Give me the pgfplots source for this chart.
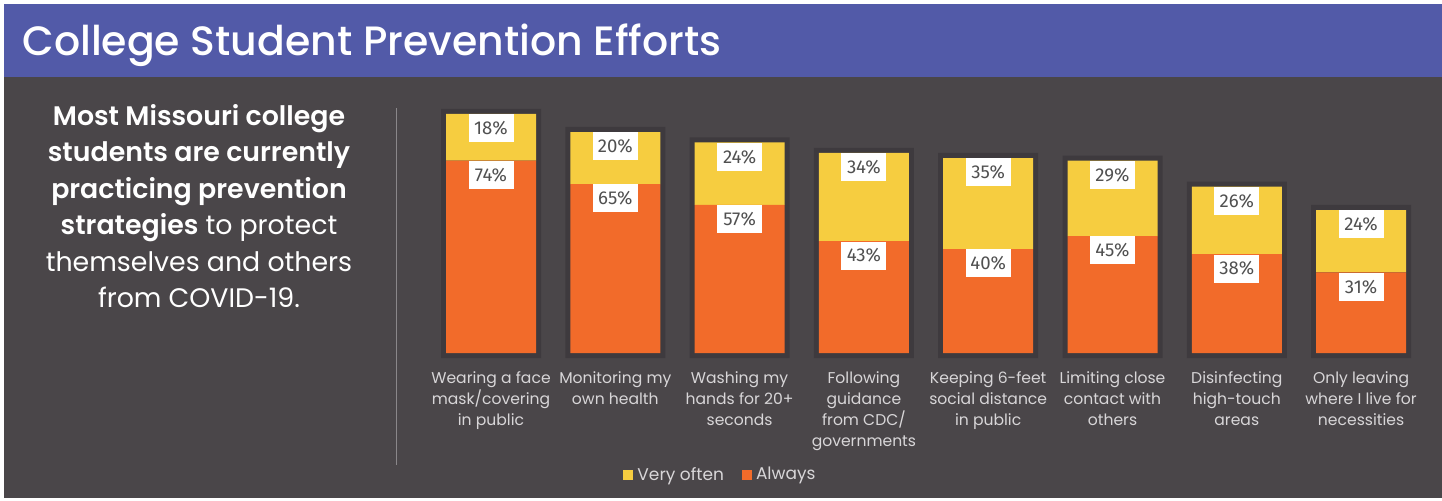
\documentclass[border=0pt]{standalone}
\usepackage{fontspec}
\setmainfont{Poppins}[BoldFont={Poppins SemiBold}]
\newfontfamily\titlefont{Poppins Medium}
\newfontfamily\labfont{Fira Sans}
\usepackage{pgfplots}
\usepackage{pgfplotstable}
\pgfplotsset{compat=1.18}
\definecolor{purp}{RGB}{82,90,168}
\definecolor{bg}{RGB}{74,70,73}
\definecolor{frame}{RGB}{62,58,62}
\definecolor{orangec}{RGB}{242,107,42}
\definecolor{yellowc}{RGB}{246,205,64}
\definecolor{cat}{RGB}{216,214,216}
\definecolor{sep}{RGB}{138,135,138}
\definecolor{labtext}{RGB}{80,80,80}
\pgfplotstableread{
x always often frame
0 74 18 95.85
1 65 20 88.85
2 57 24 84.85
3 43 34 80.85
4 40 35 78.85
5 45 29 77.85
6 38 26 67.85
7 31 24 58.85
}\data
\pgfplotsset{common/.style={anchor=south west, scale only axis,
  width=497.2pt, height=130pt, xmin=-0.5, xmax=7.5, ymin=0, ymax=100, clip=false}}
\begin{document}
\begin{tikzpicture}
\fill[white] (0pt,0pt) rectangle (721pt,250pt);
\fill[purp] (2pt,211.5pt) rectangle (721pt,248pt);
\fill[bg] (2pt,1pt) rectangle (721pt,211.5pt);
\node[anchor=base west, text=white, font=\titlefont\fontsize{20.5}{24}\selectfont, inner sep=0pt] at (11pt,222.5pt) {College Student Prevention Efforts};
\draw[sep, line width=0.6pt] (198.25pt,196pt) -- (198.25pt,17.5pt);
\begin{scope}[every node/.style={anchor=base, text=white, inner sep=0pt, font=\fontsize{13.4}{18}\selectfont}]
\node at (99.5pt,187.5pt) {\bfseries Most Missouri college};
\node at (99.5pt,169.25pt) {\bfseries students are currently};
\node at (99.5pt,151pt) {\bfseries practicing prevention};
\node at (99.5pt,132.75pt) {\textbf{strategies} to protect};
\node at (99.5pt,114.5pt) {themselves and others};
\node at (99.5pt,96.25pt) {from COVID-19.};
\end{scope}
% frames
\begin{axis}[common, at={(214.43pt,71pt)}, hide axis, ybar, bar width=50pt]
\addplot[fill=frame, draw=none] table[x=x,y=frame]{\data};
\end{axis}
% bars
\begin{axis}[common, at={(214.43pt,73.5pt)},
  ybar stacked, bar width=45pt,
  axis line style={draw=none}, major tick length=0pt, ytick=\empty,
  xtick={0,1,2,3,4,5,6,7},
  xticklabels={{Wearing a face\\mask/covering\\in public},{Monitoring my\\own health},{Washing my\\hands for 20+\\seconds},{Following\\guidance\\from CDC/\\governments},{Keeping 6-feet\\social distance\\in public},{Limiting close\\contact with\\others},{Disinfecting\\high-touch\\areas},{Only leaving\\where I live for\\necessities}},
  xticklabel style={align=center, text=cat, font=\fontsize{7.8}{10.5}\selectfont, anchor=north, inner sep=0pt, yshift=-9pt},
  reverse legend, legend columns=2,
  legend style={at={(0.2943,-0.47)}, anchor=center, draw=none, fill=none, text=cat, font=\fontsize{8.5}{10}\selectfont, /tikz/every even column/.append style={column sep=7pt}},
  legend image code/.code={\fill[#1] (0pt,-2.5pt) rectangle (5pt,2.5pt);}
  ]
\addplot[fill=orangec, draw=none] table[x=x,y=always]{\data};
\addplot[fill=yellowc, draw=none] table[x=x,y=often]{\data};
\legend{Always,Very often}
\end{axis}
% value labels
\begin{axis}[common, at={(214.43pt,73.5pt)}, hide axis,
  point meta=explicit,
  nodes near coords={\pgfmathprintnumber[assume math mode=true]{\pgfplotspointmeta}\%},
  every node near coord/.append style={anchor=north, fill=white, minimum width=22.5pt, minimum height=14pt, inner sep=0pt, text=labtext, font=\labfont\fontsize{9.3}{10}\selectfont}]
\addplot[only marks, mark=none] table[x=x, y=always, meta=always]{\data};
\addplot[only marks, mark=none] table[x=x, y expr=\thisrow{always}+\thisrow{often}, meta=often]{\data};
\end{axis}
\end{tikzpicture}
\end{document}
